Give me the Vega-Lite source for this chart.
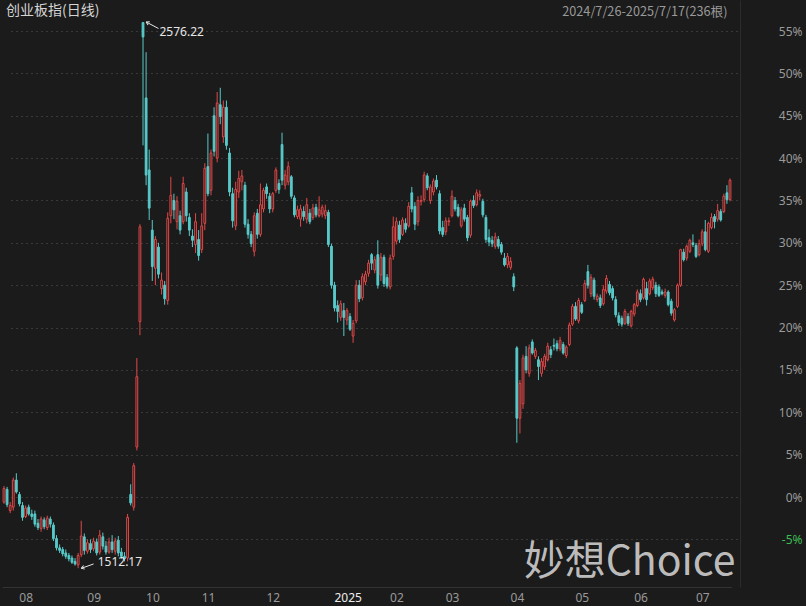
{
"$schema":"https://vega.github.io/schema/vega-lite/v6.json",
"width":740,"height":587,
"autosize":{"type":"none"},
"padding":{"left":0,"top":0,"right":66,"bottom":19},
"background":"#1b1b1b",
"config":{"view":{"stroke":null},"font":"Noto Sans"},
"title":{"text":"创业板指(日线)","anchor":"start","frame":"group","orient":"top","offset":-25,"baseline":"middle","dx":6,"font":"Noto Sans CJK SC","fontSize":14,"fontWeight":"normal","color":"#d4d4d4"},
"datasets":{
"k":[
{"d":"2024-07-26","o":-0.6,"h":1.3,"l":-0.8,"c":1.0},
{"d":"2024-07-29","o":0.9,"h":1.2,"l":-1.2,"c":-0.9},
{"d":"2024-07-30","o":-1.6,"h":-0.6,"l":-1.9,"c":-1.0},
{"d":"2024-07-31","o":-1.2,"h":2.3,"l":-1.6,"c":2.0},
{"d":"2024-08-01","o":2.0,"h":2.8,"l":0.4,"c":0.6},
{"d":"2024-08-02","o":0.3,"h":0.6,"l":-1.1,"c":-0.8},
{"d":"2024-08-05","o":-1.0,"h":-0.6,"l":-2.8,"c":-2.4},
{"d":"2024-08-06","o":-2.3,"h":-1.0,"l":-2.5,"c":-1.3},
{"d":"2024-08-07","o":-1.2,"h":-0.9,"l":-2.2,"c":-2.0},
{"d":"2024-08-08","o":-2.0,"h":-1.5,"l":-2.7,"c":-2.3},
{"d":"2024-08-09","o":-2.0,"h":-1.6,"l":-3.5,"c":-3.2},
{"d":"2024-08-12","o":-3.1,"h":-2.6,"l":-3.9,"c":-3.6},
{"d":"2024-08-13","o":-3.7,"h":-2.3,"l":-4.1,"c":-2.6},
{"d":"2024-08-14","o":-2.7,"h":-2.4,"l":-3.8,"c":-3.5},
{"d":"2024-08-15","o":-3.6,"h":-2.2,"l":-3.9,"c":-2.5},
{"d":"2024-08-16","o":-2.6,"h":-2.3,"l":-3.6,"c":-3.2},
{"d":"2024-08-19","o":-3.3,"h":-3.0,"l":-5.2,"c":-4.9},
{"d":"2024-08-20","o":-4.9,"h":-4.5,"l":-6.3,"c":-6.0},
{"d":"2024-08-21","o":-6.0,"h":-5.6,"l":-6.6,"c":-6.3},
{"d":"2024-08-22","o":-6.2,"h":-5.9,"l":-7.0,"c":-6.7},
{"d":"2024-08-23","o":-6.6,"h":-6.2,"l":-7.3,"c":-7.0},
{"d":"2024-08-26","o":-6.9,"h":-6.6,"l":-7.6,"c":-7.3},
{"d":"2024-08-27","o":-7.2,"h":-6.9,"l":-7.9,"c":-7.7},
{"d":"2024-08-28","o":-7.6,"h":-7.2,"l":-8.1,"c":-7.9},
{"d":"2024-08-29","o":-8.0,"h":-6.6,"l":-8.4,"c":-6.9},
{"d":"2024-08-30","o":-6.8,"h":-2.8,"l":-7.1,"c":-4.6},
{"d":"2024-09-02","o":-4.7,"h":-4.3,"l":-6.8,"c":-6.3},
{"d":"2024-09-03","o":-6.4,"h":-5.0,"l":-6.7,"c":-5.4},
{"d":"2024-09-04","o":-5.5,"h":-5.0,"l":-6.6,"c":-6.2},
{"d":"2024-09-05","o":-6.1,"h":-4.8,"l":-6.4,"c":-5.2},
{"d":"2024-09-06","o":-5.3,"h":-4.9,"l":-6.9,"c":-6.6},
{"d":"2024-09-09","o":-6.5,"h":-3.9,"l":-6.8,"c":-4.5},
{"d":"2024-09-10","o":-4.7,"h":-4.2,"l":-6.2,"c":-5.8},
{"d":"2024-09-11","o":-5.8,"h":-5.2,"l":-6.8,"c":-6.5},
{"d":"2024-09-12","o":-6.5,"h":-4.8,"l":-6.7,"c":-5.3},
{"d":"2024-09-13","o":-5.3,"h":-4.5,"l":-6.6,"c":-6.2},
{"d":"2024-09-18","o":-6.4,"h":-4.8,"l":-6.8,"c":-5.2},
{"d":"2024-09-19","o":-5.1,"h":-4.6,"l":-7.0,"c":-6.6},
{"d":"2024-09-20","o":-6.5,"h":-6.0,"l":-7.3,"c":-7.0},
{"d":"2024-09-23","o":-7.0,"h":-6.5,"l":-7.6,"c":-7.3},
{"d":"2024-09-24","o":-7.2,"h":-2.0,"l":-7.6,"c":-2.4},
{"d":"2024-09-25","o":0.3,"h":1.5,"l":-1.0,"c":-0.7},
{"d":"2024-09-26","o":-1.2,"h":4.0,"l":-1.6,"c":3.7},
{"d":"2024-09-27","o":5.9,"h":16.4,"l":5.5,"c":14.2},
{"d":"2024-09-30","o":20.7,"h":32.2,"l":19.1,"c":31.9},
{"d":"2024-10-08","o":56.0,"h":56.0,"l":41.5,"c":54.3},
{"d":"2024-10-09","o":47.1,"h":52.5,"l":36.8,"c":38.0},
{"d":"2024-10-10","o":38.6,"h":41.0,"l":32.7,"c":34.1},
{"d":"2024-10-11","o":31.5,"h":32.7,"l":25.5,"c":27.2},
{"d":"2024-10-14","o":27.0,"h":30.8,"l":25.0,"c":30.4},
{"d":"2024-10-15","o":29.5,"h":30.0,"l":25.8,"c":26.3},
{"d":"2024-10-16","o":24.6,"h":26.5,"l":23.9,"c":25.6},
{"d":"2024-10-17","o":25.0,"h":25.5,"l":22.7,"c":23.4},
{"d":"2024-10-18","o":23.2,"h":33.6,"l":22.7,"c":32.9},
{"d":"2024-10-21","o":33.2,"h":37.8,"l":32.3,"c":35.6},
{"d":"2024-10-22","o":35.0,"h":35.8,"l":32.8,"c":33.9},
{"d":"2024-10-23","o":32.5,"h":35.5,"l":31.6,"c":34.9},
{"d":"2024-10-24","o":33.2,"h":33.8,"l":31.0,"c":31.5},
{"d":"2024-10-25","o":32.5,"h":37.8,"l":32.2,"c":37.0},
{"d":"2024-10-28","o":36.0,"h":36.5,"l":32.5,"c":33.2},
{"d":"2024-10-29","o":33.0,"h":33.5,"l":30.8,"c":31.5},
{"d":"2024-10-30","o":30.8,"h":31.6,"l":29.5,"c":30.3},
{"d":"2024-10-31","o":29.8,"h":33.5,"l":28.8,"c":32.5},
{"d":"2024-11-01","o":30.4,"h":31.5,"l":27.9,"c":28.5},
{"d":"2024-11-04","o":29.2,"h":33.5,"l":28.8,"c":32.0},
{"d":"2024-11-05","o":32.3,"h":39.4,"l":31.5,"c":38.8},
{"d":"2024-11-06","o":39.0,"h":42.9,"l":35.5,"c":35.8},
{"d":"2024-11-07","o":36.2,"h":41.0,"l":35.6,"c":40.6},
{"d":"2024-11-08","o":45.0,"h":46.0,"l":40.2,"c":40.8},
{"d":"2024-11-11","o":40.0,"h":47.8,"l":39.5,"c":46.5},
{"d":"2024-11-12","o":46.3,"h":48.3,"l":44.0,"c":44.9},
{"d":"2024-11-13","o":42.5,"h":46.8,"l":41.8,"c":46.0},
{"d":"2024-11-14","o":46.0,"h":46.8,"l":41.0,"c":41.5},
{"d":"2024-11-15","o":40.6,"h":41.2,"l":35.5,"c":36.0},
{"d":"2024-11-18","o":35.8,"h":36.5,"l":31.8,"c":32.6},
{"d":"2024-11-19","o":32.0,"h":37.2,"l":31.5,"c":36.3},
{"d":"2024-11-20","o":36.0,"h":38.5,"l":35.3,"c":37.6},
{"d":"2024-11-21","o":37.2,"h":38.6,"l":36.2,"c":37.9},
{"d":"2024-11-22","o":36.8,"h":37.2,"l":31.8,"c":32.2},
{"d":"2024-11-25","o":32.2,"h":32.8,"l":30.5,"c":31.0},
{"d":"2024-11-26","o":31.0,"h":31.4,"l":29.5,"c":29.9},
{"d":"2024-11-27","o":29.0,"h":33.6,"l":28.4,"c":33.2},
{"d":"2024-11-28","o":33.5,"h":34.0,"l":30.5,"c":31.0},
{"d":"2024-11-29","o":31.0,"h":37.0,"l":30.7,"c":34.5},
{"d":"2024-12-02","o":34.0,"h":36.5,"l":33.6,"c":36.2},
{"d":"2024-12-03","o":36.6,"h":37.0,"l":35.2,"c":35.8},
{"d":"2024-12-04","o":35.5,"h":35.9,"l":33.5,"c":34.0},
{"d":"2024-12-05","o":34.0,"h":36.0,"l":33.6,"c":35.8},
{"d":"2024-12-06","o":36.2,"h":38.9,"l":35.9,"c":38.6},
{"d":"2024-12-09","o":37.0,"h":37.5,"l":35.8,"c":36.3},
{"d":"2024-12-10","o":41.6,"h":43.0,"l":36.8,"c":37.4},
{"d":"2024-12-11","o":36.8,"h":38.6,"l":36.3,"c":38.0},
{"d":"2024-12-12","o":37.2,"h":39.6,"l":36.8,"c":39.0},
{"d":"2024-12-13","o":37.8,"h":38.0,"l":35.2,"c":35.5},
{"d":"2024-12-16","o":35.3,"h":35.6,"l":33.0,"c":33.3},
{"d":"2024-12-17","o":33.1,"h":34.4,"l":32.8,"c":33.9},
{"d":"2024-12-18","o":32.8,"h":34.5,"l":31.9,"c":34.0},
{"d":"2024-12-19","o":33.7,"h":34.3,"l":32.6,"c":33.1},
{"d":"2024-12-20","o":32.8,"h":35.3,"l":32.3,"c":34.5},
{"d":"2024-12-23","o":33.5,"h":34.0,"l":32.2,"c":32.5},
{"d":"2024-12-24","o":33.0,"h":34.6,"l":32.7,"c":34.1},
{"d":"2024-12-25","o":34.2,"h":34.6,"l":33.0,"c":33.3},
{"d":"2024-12-26","o":33.2,"h":35.5,"l":33.0,"c":33.9},
{"d":"2024-12-27","o":33.4,"h":34.5,"l":33.0,"c":34.2},
{"d":"2024-12-30","o":33.2,"h":34.5,"l":32.8,"c":33.8},
{"d":"2024-12-31","o":33.6,"h":33.9,"l":29.5,"c":29.8},
{"d":"2025-01-02","o":29.6,"h":29.9,"l":24.6,"c":25.0},
{"d":"2025-01-03","o":25.0,"h":25.4,"l":21.9,"c":22.3},
{"d":"2025-01-06","o":22.6,"h":23.2,"l":20.6,"c":21.9},
{"d":"2025-01-07","o":21.2,"h":23.2,"l":20.8,"c":22.8},
{"d":"2025-01-08","o":22.0,"h":22.9,"l":19.0,"c":21.2},
{"d":"2025-01-09","o":20.9,"h":22.3,"l":20.3,"c":22.0},
{"d":"2025-01-10","o":21.3,"h":21.7,"l":19.6,"c":19.8},
{"d":"2025-01-13","o":19.0,"h":20.9,"l":18.2,"c":20.5},
{"d":"2025-01-14","o":20.8,"h":25.6,"l":20.5,"c":25.0},
{"d":"2025-01-15","o":25.0,"h":25.6,"l":23.0,"c":23.4},
{"d":"2025-01-16","o":23.5,"h":26.4,"l":23.2,"c":26.0},
{"d":"2025-01-17","o":25.4,"h":26.7,"l":25.0,"c":26.3},
{"d":"2025-01-20","o":26.4,"h":28.0,"l":26.0,"c":27.6},
{"d":"2025-01-21","o":28.6,"h":28.8,"l":26.8,"c":27.6},
{"d":"2025-01-22","o":26.8,"h":28.4,"l":26.4,"c":28.0},
{"d":"2025-01-23","o":28.6,"h":30.3,"l":24.6,"c":25.0},
{"d":"2025-01-24","o":26.2,"h":28.8,"l":25.5,"c":28.3},
{"d":"2025-01-27","o":28.3,"h":28.6,"l":24.8,"c":25.2},
{"d":"2025-02-05","o":25.9,"h":26.3,"l":24.6,"c":24.9},
{"d":"2025-02-06","o":24.8,"h":28.6,"l":24.5,"c":28.2},
{"d":"2025-02-07","o":28.4,"h":33.1,"l":28.0,"c":31.9},
{"d":"2025-02-10","o":30.2,"h":33.0,"l":29.8,"c":32.5},
{"d":"2025-02-11","o":32.1,"h":32.6,"l":30.0,"c":30.4},
{"d":"2025-02-12","o":31.0,"h":33.0,"l":30.8,"c":32.7},
{"d":"2025-02-13","o":32.3,"h":32.9,"l":31.2,"c":31.6},
{"d":"2025-02-14","o":32.0,"h":34.8,"l":31.8,"c":34.3},
{"d":"2025-02-17","o":35.9,"h":36.6,"l":33.6,"c":34.0},
{"d":"2025-02-18","o":34.3,"h":34.8,"l":31.5,"c":32.2},
{"d":"2025-02-19","o":32.5,"h":35.5,"l":32.0,"c":35.0},
{"d":"2025-02-20","o":34.9,"h":35.6,"l":34.4,"c":35.0},
{"d":"2025-02-21","o":35.1,"h":38.4,"l":34.8,"c":38.0},
{"d":"2025-02-24","o":37.9,"h":38.2,"l":36.2,"c":36.5},
{"d":"2025-02-25","o":35.0,"h":36.9,"l":34.6,"c":36.6},
{"d":"2025-02-26","o":36.0,"h":37.6,"l":35.6,"c":37.3},
{"d":"2025-02-27","o":37.4,"h":38.0,"l":36.3,"c":36.6},
{"d":"2025-02-28","o":35.8,"h":36.2,"l":31.0,"c":31.4},
{"d":"2025-03-03","o":31.8,"h":32.6,"l":30.7,"c":31.0},
{"d":"2025-03-04","o":31.3,"h":33.0,"l":30.9,"c":32.6},
{"d":"2025-03-05","o":32.5,"h":33.0,"l":32.0,"c":32.6},
{"d":"2025-03-06","o":33.2,"h":36.2,"l":33.0,"c":35.5},
{"d":"2025-03-07","o":35.0,"h":35.4,"l":33.7,"c":34.0},
{"d":"2025-03-10","o":34.2,"h":34.6,"l":33.0,"c":33.2},
{"d":"2025-03-11","o":32.0,"h":34.2,"l":31.8,"c":33.9},
{"d":"2025-03-12","o":34.1,"h":34.6,"l":32.5,"c":32.8},
{"d":"2025-03-13","o":33.0,"h":33.3,"l":30.2,"c":30.6},
{"d":"2025-03-14","o":30.9,"h":35.1,"l":30.6,"c":34.9},
{"d":"2025-03-17","o":35.0,"h":35.6,"l":34.1,"c":34.4},
{"d":"2025-03-18","o":34.5,"h":36.3,"l":34.3,"c":35.9},
{"d":"2025-03-19","o":35.5,"h":36.2,"l":35.0,"c":35.7},
{"d":"2025-03-20","o":34.9,"h":35.2,"l":33.0,"c":33.3},
{"d":"2025-03-21","o":33.0,"h":33.3,"l":30.0,"c":30.4},
{"d":"2025-03-24","o":30.6,"h":31.6,"l":29.6,"c":30.1},
{"d":"2025-03-25","o":30.3,"h":30.8,"l":29.5,"c":29.9},
{"d":"2025-03-26","o":29.6,"h":31.2,"l":29.3,"c":30.7},
{"d":"2025-03-27","o":30.4,"h":30.8,"l":29.3,"c":29.6},
{"d":"2025-03-28","o":29.8,"h":30.1,"l":28.6,"c":28.9},
{"d":"2025-03-31","o":28.2,"h":28.8,"l":27.2,"c":27.4},
{"d":"2025-04-01","o":27.4,"h":28.8,"l":27.0,"c":28.4},
{"d":"2025-04-02","o":27.1,"h":28.3,"l":26.8,"c":27.8},
{"d":"2025-04-03","o":26.0,"h":26.4,"l":24.3,"c":24.8},
{"d":"2025-04-07","o":17.6,"h":17.8,"l":6.4,"c":9.3},
{"d":"2025-04-08","o":9.3,"h":13.8,"l":7.5,"c":13.4},
{"d":"2025-04-09","o":11.0,"h":16.8,"l":10.4,"c":16.4},
{"d":"2025-04-10","o":16.6,"h":17.8,"l":14.6,"c":15.0},
{"d":"2025-04-11","o":14.6,"h":18.0,"l":14.2,"c":17.6},
{"d":"2025-04-14","o":18.3,"h":18.6,"l":16.8,"c":17.0},
{"d":"2025-04-15","o":16.6,"h":17.6,"l":16.3,"c":17.3},
{"d":"2025-04-16","o":16.2,"h":16.6,"l":13.8,"c":15.4},
{"d":"2025-04-17","o":14.6,"h":16.4,"l":14.2,"c":16.0},
{"d":"2025-04-18","o":15.4,"h":16.9,"l":15.0,"c":16.6},
{"d":"2025-04-21","o":16.2,"h":18.2,"l":16.0,"c":17.8},
{"d":"2025-04-22","o":17.4,"h":17.8,"l":16.4,"c":16.8},
{"d":"2025-04-23","o":17.9,"h":18.7,"l":17.3,"c":17.8},
{"d":"2025-04-24","o":18.1,"h":18.5,"l":17.2,"c":17.5},
{"d":"2025-04-25","o":17.5,"h":18.9,"l":17.2,"c":18.5},
{"d":"2025-04-28","o":18.0,"h":18.3,"l":16.8,"c":17.0},
{"d":"2025-04-29","o":16.7,"h":17.9,"l":16.4,"c":17.7},
{"d":"2025-04-30","o":18.0,"h":20.6,"l":17.8,"c":20.3},
{"d":"2025-05-06","o":20.4,"h":22.8,"l":20.2,"c":22.5},
{"d":"2025-05-07","o":22.5,"h":23.0,"l":20.8,"c":21.0},
{"d":"2025-05-08","o":20.8,"h":23.5,"l":20.5,"c":23.2},
{"d":"2025-05-09","o":22.7,"h":23.0,"l":21.6,"c":21.8},
{"d":"2025-05-12","o":23.2,"h":25.6,"l":23.0,"c":25.2},
{"d":"2025-05-13","o":26.6,"h":27.4,"l":24.6,"c":25.0},
{"d":"2025-05-14","o":24.0,"h":26.3,"l":23.6,"c":25.9},
{"d":"2025-05-15","o":25.6,"h":25.9,"l":23.3,"c":23.7},
{"d":"2025-05-16","o":23.3,"h":24.0,"l":23.0,"c":23.7},
{"d":"2025-05-19","o":23.5,"h":23.9,"l":22.3,"c":22.6},
{"d":"2025-05-20","o":22.8,"h":25.0,"l":22.6,"c":24.5},
{"d":"2025-05-21","o":24.3,"h":26.2,"l":24.0,"c":25.8},
{"d":"2025-05-22","o":25.1,"h":25.5,"l":23.8,"c":24.1},
{"d":"2025-05-23","o":24.6,"h":24.9,"l":23.2,"c":23.5},
{"d":"2025-05-26","o":23.3,"h":23.7,"l":21.2,"c":21.5},
{"d":"2025-05-27","o":21.4,"h":21.8,"l":20.2,"c":20.6},
{"d":"2025-05-28","o":21.1,"h":21.4,"l":20.1,"c":20.4},
{"d":"2025-05-29","o":20.5,"h":22.2,"l":20.3,"c":21.9},
{"d":"2025-05-30","o":21.3,"h":21.7,"l":20.2,"c":20.5},
{"d":"2025-06-03","o":20.2,"h":22.1,"l":20.0,"c":21.9},
{"d":"2025-06-04","o":21.6,"h":22.9,"l":21.3,"c":22.7},
{"d":"2025-06-05","o":22.6,"h":24.5,"l":22.4,"c":24.2},
{"d":"2025-06-06","o":24.0,"h":24.5,"l":23.0,"c":23.3},
{"d":"2025-06-09","o":23.5,"h":25.9,"l":23.3,"c":25.7},
{"d":"2025-06-10","o":24.6,"h":25.4,"l":22.6,"c":23.3},
{"d":"2025-06-11","o":24.0,"h":25.8,"l":23.8,"c":25.5},
{"d":"2025-06-12","o":24.7,"h":26.0,"l":24.4,"c":25.7},
{"d":"2025-06-13","o":25.0,"h":25.4,"l":23.6,"c":24.0},
{"d":"2025-06-16","o":24.8,"h":25.1,"l":23.6,"c":23.8},
{"d":"2025-06-17","o":24.2,"h":24.5,"l":23.8,"c":24.0},
{"d":"2025-06-18","o":23.8,"h":24.6,"l":23.5,"c":24.2},
{"d":"2025-06-19","o":24.2,"h":24.4,"l":22.5,"c":22.7},
{"d":"2025-06-20","o":23.1,"h":23.4,"l":21.4,"c":21.7},
{"d":"2025-06-23","o":20.9,"h":22.3,"l":20.7,"c":22.1},
{"d":"2025-06-24","o":22.5,"h":25.2,"l":22.3,"c":25.0},
{"d":"2025-06-25","o":25.0,"h":29.3,"l":24.8,"c":29.2},
{"d":"2025-06-26","o":28.9,"h":29.3,"l":27.8,"c":28.0},
{"d":"2025-06-27","o":28.2,"h":29.8,"l":27.9,"c":29.6},
{"d":"2025-06-30","o":29.0,"h":30.5,"l":28.8,"c":30.3},
{"d":"2025-07-01","o":30.0,"h":31.0,"l":29.5,"c":29.8},
{"d":"2025-07-02","o":29.7,"h":30.0,"l":28.2,"c":28.4},
{"d":"2025-07-03","o":28.6,"h":30.4,"l":28.4,"c":29.9},
{"d":"2025-07-04","o":29.9,"h":31.6,"l":29.6,"c":31.3},
{"d":"2025-07-07","o":31.3,"h":32.7,"l":29.0,"c":29.2},
{"d":"2025-07-08","o":29.0,"h":32.5,"l":28.8,"c":32.3},
{"d":"2025-07-09","o":31.8,"h":33.5,"l":31.6,"c":33.0},
{"d":"2025-07-10","o":33.1,"h":33.4,"l":31.7,"c":32.5},
{"d":"2025-07-11","o":32.8,"h":34.6,"l":32.5,"c":33.8},
{"d":"2025-07-14","o":33.7,"h":34.0,"l":32.5,"c":32.7},
{"d":"2025-07-15","o":33.7,"h":35.8,"l":33.5,"c":35.5},
{"d":"2025-07-16","o":35.9,"h":36.8,"l":34.6,"c":35.1},
{"d":"2025-07-17","o":35.1,"h":37.6,"l":34.9,"c":37.4}
],
"ann":[
{"d":"2024-10-15","v":54.9,"t":"2576.22"},
{"d":"2024-09-06","v":-7.67,"t":"1512.17"}
],
"arrows":[
{"g":"a","d":"2024-10-09","v":56.07},
{"g":"a","d":"2024-10-15","v":55.3},
{"g":"b","d":"2024-08-30","v":-8.42},
{"g":"b","d":"2024-09-05","v":-7.9}
]
},
"layer":[
{
"data":{"name":"k"},
"mark":{"type":"rule","strokeWidth":1},
"encoding":{
"x":{"field":"d","type":"ordinal","sort":"ascending",
"scale":{"type":"band","range":[2.45,731.55],"paddingInner":0,"paddingOuter":0},
"axis":{"title":"妙想Choice","titleX":735,"titleY":-13,"titleAlign":"right","titleBaseline":"alphabetic","titleFont":"Noto Sans CJK SC","titleFontSize":41,"titleFontWeight":"normal","titleColor":"#d2d2d2","titleOpacity":0.9,
"values":["2024-08-01","2024-09-02","2024-10-08","2024-11-01","2024-12-02","2025-01-02","2025-02-05","2025-03-03","2025-04-01","2025-05-06","2025-06-03","2025-07-01"],
"labelExpr":"substring(datum.value,5,7)=='01' ? substring(datum.value,0,4) : substring(datum.value,5,7)",
"labelAngle":0,"labelAlign":"left","labelOffset":3,"labelPadding":5,"labelFontSize":12,"labelFont":"Noto Sans",
"labelColor":{"condition":{"test":"substring(datum.value,5,7)=='01'","value":"#eeeeee"},"value":"#9a9a9a"},
"ticks":false,"grid":false,"domain":true,"domainColor":"#333333","labelOverlap":false}},
"y":{"field":"l","type":"quantitative",
"scale":{"domain":[-10.62,58.66],"nice":false,"zero":false},
"axis":{"orient":"right","title":"2024/7/26-2025/7/17(236根)","titleAngle":0,"titleX":-13,"titleY":11,"titleAlign":"right","titleBaseline":"middle","titleFont":"Noto Sans CJK SC","titleFontSize":12.7,"titleFontWeight":"normal","titleColor":"#9a9a9a",
"values":[-5,0,5,10,15,20,25,30,35,40,45,50,55],
"labelExpr":"datum.value + '%'","labelAlign":"right","labelBaseline":"middle","labelPadding":62,"labelFontSize":12,"labelFont":"Noto Sans",
"labelColor":{"condition":{"test":"datum.value < 0","value":"#3dbb55"},"value":"#9a9a9a"},
"ticks":false,"domain":true,"domainColor":"#2c2c2c","grid":true,"gridDash":[2,3],"gridColor":"#3a3a3a","gridWidth":1}},
"y2":{"field":"h"},
"stroke":{"condition":{"test":"datum.c >= datum.o","value":"#e04848"},"value":"#57c9c9"}
}
},
{
"data":{"name":"k"},
"mark":{"type":"bar","width":{"band":0.58},"strokeWidth":1},
"encoding":{
"x":{"field":"d","type":"ordinal"},
"y":{"field":"o","type":"quantitative"},
"y2":{"field":"c"},
"fill":{"condition":{"test":"datum.c >= datum.o","value":"#1b1b1b"},"value":"#57c9c9"},
"stroke":{"condition":{"test":"datum.c >= datum.o","value":"#e04848"},"value":"#57c9c9"}
}
},
{
"data":{"name":"arrows"},
"mark":{"type":"line","stroke":"#e6e6e6","strokeWidth":1},
"encoding":{
"x":{"field":"d","type":"ordinal"},
"y":{"field":"v","type":"quantitative"},
"detail":{"field":"g"}
}
},
{
"data":{"values":[{"d":"2024-10-09","v":56.07}]},
"mark":{"type":"point","shape":"M0,0L1,-0.6M0,0L1,0.6","size":40,"filled":false,"stroke":"#e6e6e6","strokeWidth":1,"angle":27,"opacity":1},
"encoding":{"x":{"field":"d","type":"ordinal"},"y":{"field":"v","type":"quantitative"}}
},
{
"data":{"values":[{"d":"2024-08-30","v":-8.42}]},
"mark":{"type":"point","shape":"M0,0L1,-0.6M0,0L1,0.6","size":40,"filled":false,"stroke":"#e6e6e6","strokeWidth":1,"angle":341,"opacity":1},
"encoding":{"x":{"field":"d","type":"ordinal"},"y":{"field":"v","type":"quantitative"}}
},
{
"data":{"name":"ann"},
"mark":{"type":"text","align":"left","baseline":"middle","dx":1,"fontSize":12,"font":"Noto Sans","color":"#e6e6e6"},
"encoding":{
"x":{"field":"d","type":"ordinal"},
"y":{"field":"v","type":"quantitative"},
"text":{"field":"t"}
}
}
]
}
